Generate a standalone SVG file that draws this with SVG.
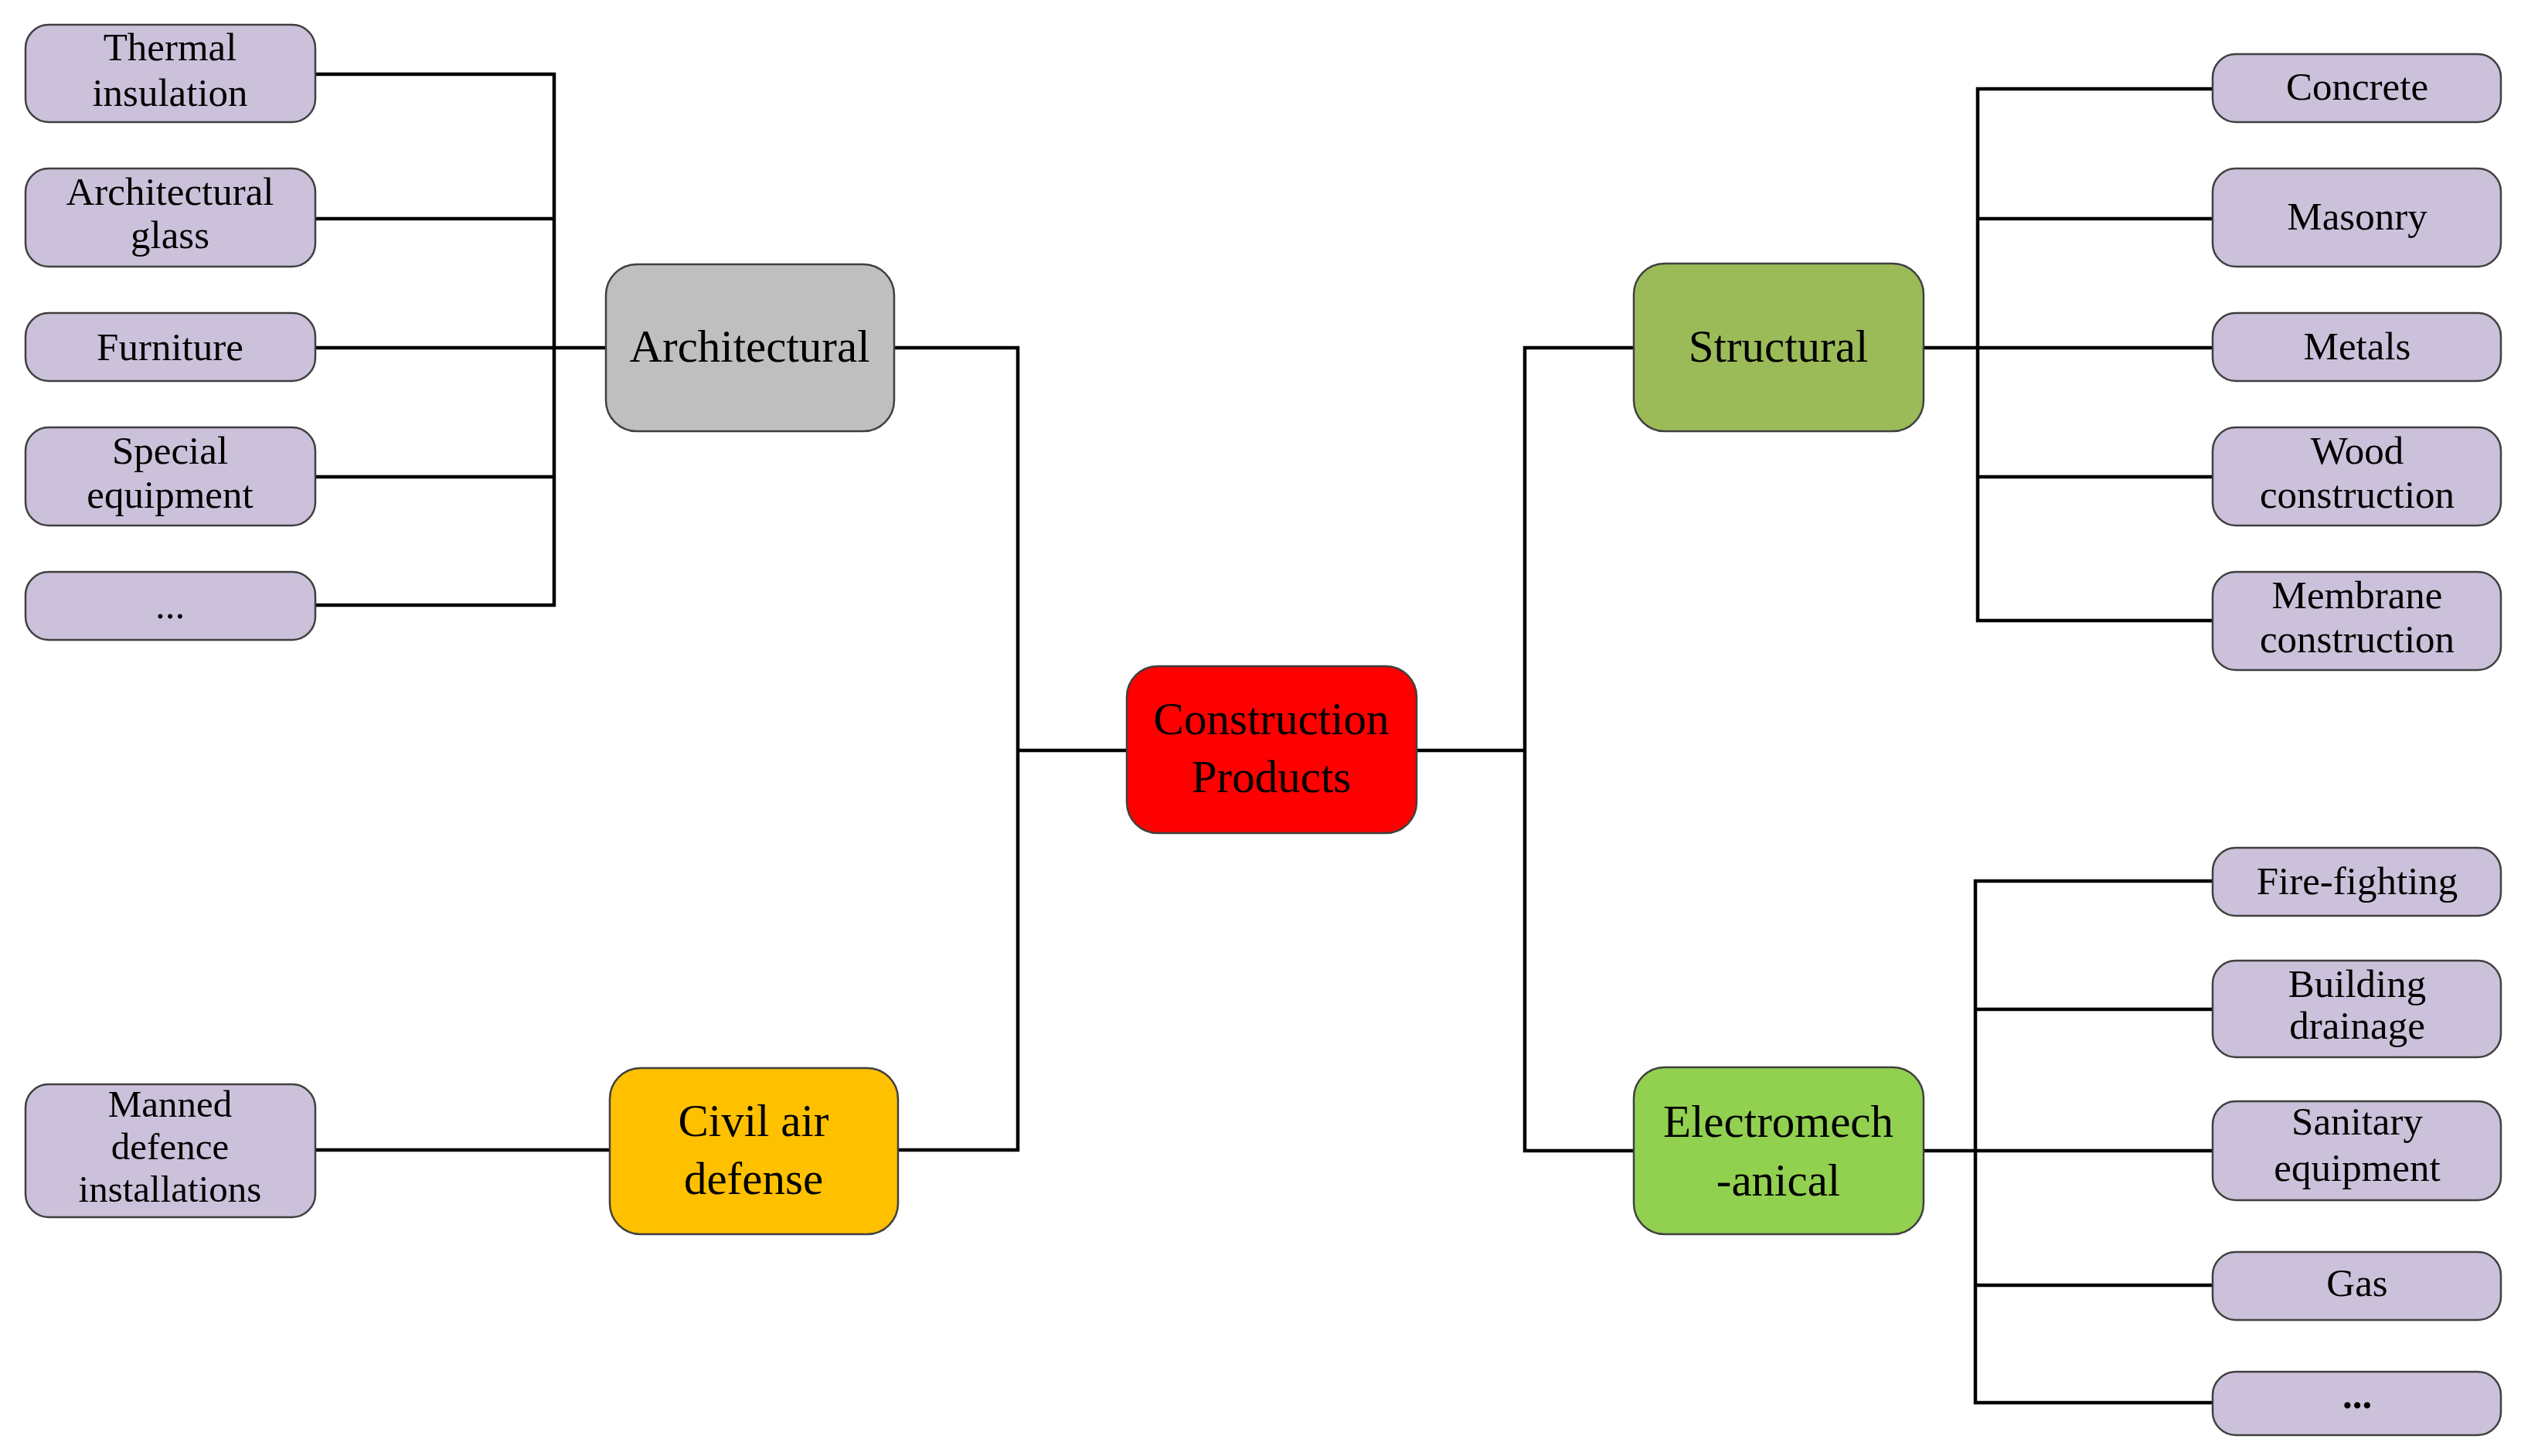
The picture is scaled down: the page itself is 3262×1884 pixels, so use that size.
<svg xmlns="http://www.w3.org/2000/svg" width="3262" height="1884" viewBox="0 0 3262 1884">
<style>
.box{stroke:#404040;stroke-width:2.5}
.leaf{fill:#CCC1DA}
.t{font-family:"Liberation Serif","Times New Roman",serif;fill:#000;text-anchor:middle}
.s{font-size:51px}
.m{font-size:59px}
.c{fill:none;stroke:#000;stroke-width:4.5}
</style>
<rect width="3262" height="1884" fill="#fff"/>
<g id="connectors" class="c">
<path d="M408,96 H717 V783 H408"/>
<path d="M408,283 H717"/>
<path d="M408,450 H784"/>
<path d="M408,617 H717"/>
<path d="M1157,450 H1317 V1488 H1162"/>
<path d="M1317,971 H1458"/>
<path d="M408,1488 H789"/>
<path d="M1833,971 H1973"/>
<path d="M2114,450 H1973 V1489 H2114"/>
<path d="M2489,450 H2863"/>
<path d="M2863,115 H2559 V803 H2863"/>
<path d="M2559,283 H2863"/>
<path d="M2559,617 H2863"/>
<path d="M2489,1489 H2863"/>
<path d="M2863,1140 H2556 V1815 H2863"/>
<path d="M2556,1306 H2863"/>
<path d="M2556,1663 H2863"/>
</g>
<g id="thermal"><rect class="box leaf" x="33" y="32" width="375" height="126" rx="30"/><text class="t s" x="220" y="78">Thermal</text><text class="t s" x="220" y="137">insulation</text></g>
<g id="glass"><rect class="box leaf" x="33" y="218" width="375" height="127" rx="30"/><text class="t s" x="220" y="265">Architectural</text><text class="t s" x="220" y="321">glass</text></g>
<g id="furniture"><rect class="box leaf" x="33" y="405" width="375" height="88" rx="30"/><text class="t s" x="220" y="466">Furniture</text></g>
<g id="special"><rect class="box leaf" x="33" y="553" width="375" height="127" rx="30"/><text class="t s" x="220" y="600">Special</text><text class="t s" x="220" y="657">equipment</text></g>
<g id="more-left"><rect class="box leaf" x="33" y="740" width="375" height="88" rx="30"/><text class="t s" x="220" y="800">...</text></g>
<g id="manned"><rect class="box leaf" x="33" y="1403" width="375" height="172" rx="30"/><text class="t s" x="220" y="1445" style="font-size:49px">Manned</text><text class="t s" x="220" y="1500" style="font-size:49px">defence</text><text class="t s" x="220" y="1555" style="font-size:49px">installations</text></g>
<g id="architectural"><rect class="box" fill="#BFBFBF" x="784" y="342" width="373" height="216" rx="40"/><text class="t m" x="970" y="468">Architectural</text></g>
<g id="civil"><rect class="box" fill="#FFC000" x="789" y="1382" width="373" height="215" rx="40"/><text class="t m" x="975" y="1470">Civil air</text><text class="t m" x="975" y="1545">defense</text></g>
<g id="construction"><rect class="box" fill="#FF0000" x="1458" y="862" width="375" height="216" rx="40"/><text class="t m" x="1645" y="950">Construction</text><text class="t m" x="1645" y="1025">Products</text></g>
<g id="structural"><rect class="box" fill="#9BBB59" x="2114" y="341" width="375" height="217" rx="40"/><text class="t m" x="2301" y="468">Structural</text></g>
<g id="electromechanical"><rect class="box" fill="#92D050" x="2114" y="1381" width="375" height="216" rx="40"/><text class="t m" x="2301" y="1471">Electromech</text><text class="t m" x="2301" y="1547">-anical</text></g>
<g id="concrete"><rect class="box leaf" x="2863" y="70" width="373" height="88" rx="30"/><text class="t s" x="3050" y="129">Concrete</text></g>
<g id="masonry"><rect class="box leaf" x="2863" y="218" width="373" height="127" rx="30"/><text class="t s" x="3050" y="297">Masonry</text></g>
<g id="metals"><rect class="box leaf" x="2863" y="405" width="373" height="88" rx="30"/><text class="t s" x="3050" y="465">Metals</text></g>
<g id="wood"><rect class="box leaf" x="2863" y="553" width="373" height="127" rx="30"/><text class="t s" x="3050" y="600">Wood</text><text class="t s" x="3050" y="657">construction</text></g>
<g id="membrane"><rect class="box leaf" x="2863" y="740" width="373" height="127" rx="30"/><text class="t s" x="3050" y="787">Membrane</text><text class="t s" x="3050" y="844">construction</text></g>
<g id="fire"><rect class="box leaf" x="2863" y="1097" width="373" height="88" rx="30"/><text class="t s" x="3050" y="1157">Fire-fighting</text></g>
<g id="drainage"><rect class="box leaf" x="2863" y="1243" width="373" height="125" rx="30"/><text class="t s" x="3050" y="1290">Building</text><text class="t s" x="3050" y="1344">drainage</text></g>
<g id="sanitary"><rect class="box leaf" x="2863" y="1425" width="373" height="128" rx="30"/><text class="t s" x="3050" y="1468">Sanitary</text><text class="t s" x="3050" y="1528">equipment</text></g>
<g id="gas"><rect class="box leaf" x="2863" y="1620" width="373" height="88" rx="30"/><text class="t s" x="3050" y="1677">Gas</text></g>
<g id="more-right"><rect class="box leaf" x="2863" y="1775" width="373" height="82" rx="30"/><text class="t s" x="3050" y="1822" font-weight="bold">...</text></g>
</svg>
